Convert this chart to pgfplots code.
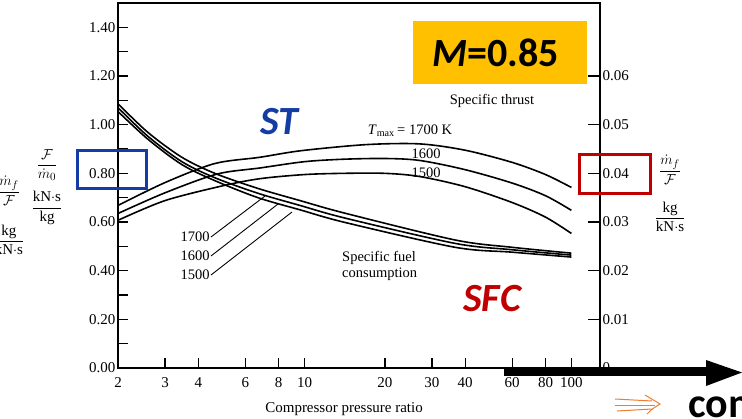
\documentclass[border=0pt]{standalone}
\usepackage{pgfplots}
\pgfplotsset{compat=1.18}
\usetikzlibrary{arrows.meta}
\usepackage{fontspec}
\setmainfont{Liberation Serif}
\newfontfamily\calib{Carlito}
\definecolor{stblue}{RGB}{20,60,165}
\definecolor{sfcred}{RGB}{192,0,0}
\definecolor{gold}{RGB}{255,192,0}
\definecolor{orng}{RGB}{237,125,49}
\begin{document}
\begin{tikzpicture}[x=1pt,y=1pt]
\useasboundingbox (0,0) rectangle (742,-418);
\fill[gold] (413,-21) rectangle (587,-84);
\begin{axis}[
  at={(118pt,-368pt)}, anchor=south west,
  scale only axis, width=482pt, height=365pt,
  xmode=log, xmin=2, xmax=128, ymin=0, ymax=1.5,
  xtick={2,3,4,6,8,10,20,30,40,60,80,100},
  xticklabels={2,3,4,6,8,10,20,30,40,60,80,100},
  xminorticks=false,
  ytick={0,0.2,0.4,0.6,0.8,1.0,1.2,1.4},
  yticklabels={0.00,0.20,0.40,0.60,0.80,1.00,1.20,1.40},
  minor ytick={0.1,0.3,0.5,0.7,0.9,1.1,1.3},
  xtick pos=left, ytick pos=left,
  tick align=inside,
  major tick length=10pt, minor tick length=10pt,
  every tick/.style={black, line width=1.3pt},
  axis line style={line width=1.8pt},
  ticklabel style={font=\fontsize{15}{15}\selectfont},
  xticklabel style={yshift=-6pt},
  yticklabel style={xshift=1pt},
  xlabel={Compressor pressure ratio},
  xlabel style={at={(axis description cs:0.469,-0.112)}, anchor=center, font=\fontsize{15}{15}\selectfont},
]
% Specific thrust, kN s/kg
\addplot[black, line width=1.6pt, smooth] coordinates {
(2,0.668) (3,0.762) (4.6,0.840) (6.8,0.866) (9.7,0.893) (17,0.918) (27,0.921) (40,0.895) (60,0.845) (80,0.795) (100,0.742)};
\addplot[black, line width=1.6pt, smooth] coordinates {
(2,0.635) (3,0.720) (4.7,0.797) (6.8,0.822) (10,0.848) (14,0.858) (20,0.861) (27,0.853) (40,0.815) (60,0.760) (80,0.708) (100,0.648)};
\addplot[black, line width=1.6pt, smooth] coordinates {
(2,0.607) (3,0.688) (4.9,0.748) (6.8,0.778) (10,0.795) (14,0.800) (20,0.800) (27,0.787) (40,0.745) (60,0.680) (80,0.620) (100,0.553)};
\end{axis}
\begin{axis}[
  at={(118pt,-368pt)}, anchor=south west,
  scale only axis, width=482pt, height=365pt,
  xmode=log, xmin=2, xmax=128, ymin=0, ymax=0.075,
  axis x line=none, axis y line*=right,
  xtick=\empty,
  ytick={0,0.01,0.02,0.03,0.04,0.05,0.06},
  yticklabels={0,0.01,0.02,0.03,0.04,0.05,0.06},
  tick align=inside,
  major tick length=12pt,
  every tick/.style={black, line width=1.3pt},
  axis line style={line width=1.8pt},
  ticklabel style={font=\fontsize{15}{15}\selectfont},
  yticklabel style={xshift=-1pt},
]
% Specific fuel consumption, kg/(kN s)
\addplot[black, line width=1.6pt, smooth] coordinates {
(2,0.0543) (2.59,0.0484) (3.47,0.0433) (4.61,0.0400) (6.69,0.0369) (9.62,0.0344) (14.2,0.0318) (36.7,0.0263) (60,0.0248) (100,0.0236)};
\addplot[black, line width=1.6pt, smooth] coordinates {
(2,0.0535) (2.59,0.0476) (3.47,0.0424) (4.61,0.0391) (6.69,0.0359) (9.62,0.0334) (14.2,0.0308) (36.7,0.0256) (60,0.0243) (100,0.0232)};
\addplot[black, line width=1.6pt, smooth] coordinates {
(2,0.0527) (2.59,0.0470) (3.47,0.0418) (4.61,0.0385) (6.69,0.0350) (9.62,0.0325) (14.2,0.0299) (36.7,0.0248) (60,0.0238) (100,0.0228)};
\end{axis}
% in-plot labels
\begin{scope}[every node/.style={font=\fontsize{14.5}{16}\selectfont, inner sep=0pt}]
\node at (492,-101) {Specific thrust};
\node at (410,-131) {\textit{T}\textsubscript{max}\,= 1700 K};
\node at (426,-154) {1600};
\node at (426,-173) {1500};
\node at (195,-237) {1700};
\node at (195,-256) {1600};
\node at (195,-275) {1500};
\node[align=left, anchor=north west] at (342,-251) {Specific fuel\\consumption};
\end{scope}
\draw[line width=0.9pt] (211,-237) -- (265,-196);
\draw[line width=0.9pt] (211,-256) -- (278,-204);
\draw[line width=0.9pt] (211,-275) -- (292,-212);
% axis quantity labels
\begin{scope}[every node/.style={font=\fontsize{15}{16}\selectfont, inner sep=0pt}]
\node at (9,-191) {$\displaystyle\frac{\dot m_f}{\mathcal{F}}$};
\node at (9,-240) {$\displaystyle\frac{\mathrm{kg}}{\mathrm{kN{\cdot}s}}$};
\node at (47,-165) {$\displaystyle\frac{\mathcal{F}}{\dot m_0}$};
\node at (47,-208) {$\displaystyle\frac{\mathrm{kN{\cdot}s}}{\mathrm{kg}}$};
\node at (670,-170) {$\displaystyle\frac{\dot m_f}{\mathcal{F}}$};
\node at (670,-217) {$\displaystyle\frac{\mathrm{kg}}{\mathrm{kN{\cdot}s}}$};
\end{scope}
% overlay annotations
\draw[stblue, line width=3pt] (77,-150) rectangle (146,-188);
\draw[sfcred, line width=3pt] (579,-154) rectangle (650,-193);
\node[inner sep=0pt, font=\calib\bfseries\fontsize{40}{40}\selectfont] at (496,-52.5) {\itshape M\upshape=0.85};
\node[inner sep=0pt, text=stblue, font=\calib\bfseries\itshape\fontsize{40}{40}\selectfont] at (279,-121.5) {ST};
\node[inner sep=0pt, text=sfcred, font=\calib\bfseries\itshape\fontsize{40}{40}\selectfont] at (492,-299) {SFC};
\fill[black] (504,-367) rectangle (708,-376);
\fill[black] (706,-360) -- (742,-372.5) -- (706,-386) -- cycle;
\node[inner sep=0pt, anchor=base west, font=\calib\bfseries\fontsize{42}{42}\selectfont] at (688,-417) {compressor ratio};
\begin{scope}[orng, line width=1pt]
\draw (615,-399) -- (652,-401);
\draw (615,-405) -- (655,-405);
\draw (617,-411) -- (652,-409);
\draw (645,-395) .. controls (652,-399) .. (660,-404) .. controls (652,-409) .. (647,-414);
\end{scope}
\end{tikzpicture}
\end{document}
